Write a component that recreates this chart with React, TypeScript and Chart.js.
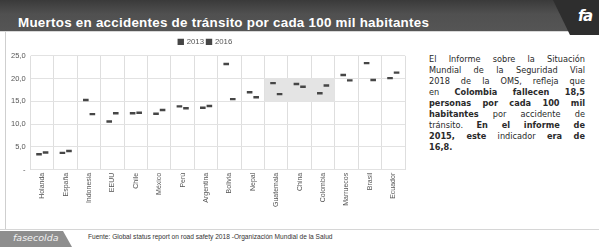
import React, { useEffect, useRef } from "react";
import { Chart, registerables } from "chart.js";

Chart.register(...registerables);

const categories = ["Holanda", "España", "Indonesia", "EEUU", "Chile", "México", "Perú", "Argentina", "Bolivia", "Nepal", "Guatemala", "China", "Colombia", "Marruecos", "Brasil", "Ecuador"];
const values2013 = [3.4, 3.7, 15.3, 10.6, 12.4, 12.3, 13.9, 13.6, 23.2, 17.0, 19.0, 18.8, 16.8, 20.8, 23.4, 20.1];
const values2016 = [3.8, 4.1, 12.2, 12.4, 12.5, 13.1, 13.5, 14.0, 15.5, 15.9, 16.6, 18.2, 18.5, 19.6, 19.7, 21.3];
const seriesNames = ["2013", "2016"];
const highlightCats = ["Guatemala", "China", "Colombia"];
const highlightRange = [15, 20];
const yTicks = [0, 5, 10, 15, 20, 25];

const MARK = "#464646";

const highlightPlugin = {
  id: "highlight",
  beforeDatasetsDraw(chart: any) {
    const { ctx, scales } = chart;
    const xs = scales.x;
    const ys = scales.y;
    const first = categories.indexOf(highlightCats[0]);
    const last = categories.indexOf(highlightCats[highlightCats.length - 1]);
    const x0 = xs.getPixelForValue(first - 0.5);
    const x1 = xs.getPixelForValue(last + 0.5);
    const y0 = ys.getPixelForValue(highlightRange[1]);
    const y1 = ys.getPixelForValue(highlightRange[0]);
    ctx.save();
    ctx.fillStyle = "#e4e4e4";
    ctx.fillRect(x0, y0, x1 - x0, y1 - y0);
    ctx.restore();
  },
};

function App() {
  const ref = useRef<HTMLCanvasElement | null>(null);
  useEffect(() => {
    if (!ref.current) return;
    const mk = (vals: number[], off: number, label: string) => ({
      label,
      data: vals.map((v, i) => ({ x: i + off, y: v })),
      showLine: false,
      pointStyle: "line" as const,
      radius: 2.8,
      hoverRadius: 2.8,
      borderWidth: 2.4,
      borderColor: MARK,
      backgroundColor: MARK,
    });
    const chart = new Chart(ref.current, {
      type: "scatter",
      data: {
        datasets: [mk(values2013, -0.14, seriesNames[0]), mk(values2016, 0.14, seriesNames[1])],
      },
      plugins: [highlightPlugin],
      options: {
        animation: false,
        responsive: false,
        devicePixelRatio: 1,
        layout: { padding: { left: 0, right: 13, top: 0, bottom: 0 } },
        plugins: {
          legend: {
            display: true,
            position: "top",
            labels: {
              boxWidth: 4,
              boxHeight: 4,
              padding: 3,
              color: "#555",
              font: { family: "Liberation Sans, Arial, sans-serif", size: 7.8 },
            },
          },
          tooltip: { enabled: false },
        },
        scales: {
          x: {
            type: "linear",
            min: -0.5,
            max: categories.length - 0.5,
            afterBuildTicks: (scale: any) => {
              scale.ticks = categories.map((_, i) => ({ value: i }));
            },
            ticks: {
              autoSkip: false,
              minRotation: 90,
              maxRotation: 90,
              padding: 3,
              color: "#555",
              font: { family: "Liberation Sans, Arial, sans-serif", size: 7 },
              callback: (v: any) => categories[Math.round(Number(v))] ?? "",
            },
            grid: { offset: true, color: "#dedede", lineWidth: 1, drawTicks: false },
            border: { display: false },
          },
          y: {
            min: 0,
            max: 25,
            afterBuildTicks: (scale: any) => {
              scale.ticks = yTicks.map((v) => ({ value: v }));
            },
            ticks: {
              padding: 5,
              color: "#555",
              font: { family: "Liberation Sans, Arial, sans-serif", size: 7.5 },
              callback: (v: any) => (Number(v) === 0 ? "-" : Number(v).toFixed(1).replace(".", ",")),
            },
            grid: { color: "#e2e2e2", lineWidth: 1, drawTicks: false },
            border: { display: false },
          },
        },
      },
    });
    return () => chart.destroy();
  }, []);

  const line = (content: React.ReactNode, last = false) => (
    <div style={{ textAlign: "justify", textAlignLast: last ? "left" : "justify", whiteSpace: "nowrap" as any }}>{content}</div>
  );

  return (
    <div style={{ position: "fixed", left: 0, top: 0, width: 599, height: 247, background: "#fff", overflow: "hidden", fontFamily: "Liberation Sans, Arial, sans-serif" }}>
      {/* header */}
      <div style={{ position: "absolute", left: 0, top: 0, width: 599, height: 31, background: "linear-gradient(#3a3a3a, #505050 45%, #555 100%)" }} />
      <div style={{ position: "absolute", left: 0, top: 31, width: 599, height: 1, background: "#d8d8d8" }} />
      <div style={{ position: "absolute", left: 0, top: 0, width: 599, height: 35, background: "#2e2e2e", clipPath: "polygon(553px 0, 599px 0, 599px 35px, 570px 35px)" }} />
      <div style={{ position: "absolute", left: 18, top: 15, color: "#fff", fontWeight: "bold", fontSize: 13.4, whiteSpace: "nowrap", letterSpacing: 0.25 }}>
        Muertos en accidentes de tránsito por cada 100 mil habitantes
      </div>
      <div style={{ position: "absolute", left: 578, top: 7, color: "#fff", fontWeight: "bold", fontStyle: "italic", fontSize: 15, fontFamily: "DejaVu Sans, sans-serif", letterSpacing: -1.5 }}>fa</div>
      {/* panel borders */}
      <div style={{ position: "absolute", left: 5, top: 32, width: 1, height: 197, background: "#cfcfcf" }} />
      <div style={{ position: "absolute", left: 0, top: 229, width: 599, height: 1, background: "#d6d6d6" }} />
      {/* chart */}
      <canvas ref={ref} width={412} height={175} style={{ position: "absolute", left: 6, top: 35, width: 412, height: 175 }} />
      {/* text */}
      <div style={{ position: "absolute", left: 429, top: 54, width: 156, fontFamily: "DejaVu Sans, sans-serif", fontSize: 8.2, lineHeight: "11px", color: "#2a2a2a" }}>
        {line(<>El Informe sobre la Situación</>)}
        {line(<>Mundial de la Seguridad Vial</>)}
        {line(<>2018 de la OMS, refleja que</>)}
        {line(<>en <b>Colombia fallecen 18,5</b></>)}
        {line(<b>personas por cada 100 mil</b>)}
        {line(<><b>habitantes</b> por accidente de</>)}
        {line(<>tránsito. <b>En el informe de</b></>)}
        {line(<><b>2015, este</b> indicador <b>era de</b></>)}
        {line(<b>16,8.</b>, true)}
      </div>
      {/* footer */}
      <div style={{ position: "absolute", left: 0, top: 231, width: 72, height: 16, background: "#8e8e8e", clipPath: "polygon(0 0, 63px 0, 72px 16px, 0 16px)" }} />
      <div style={{ position: "absolute", left: 13, top: 232, color: "#f2f2f2", fontSize: 9.5, fontStyle: "italic", fontFamily: "DejaVu Sans, sans-serif" }}>fasecolda</div>
      <div style={{ position: "absolute", left: 88, top: 233, color: "#333", fontSize: 6.6, whiteSpace: "nowrap" }}>
        Fuente: Global status report on road safety 2018 -Organización Mundial de la Salud
      </div>
    </div>
  );
}

export default App;
